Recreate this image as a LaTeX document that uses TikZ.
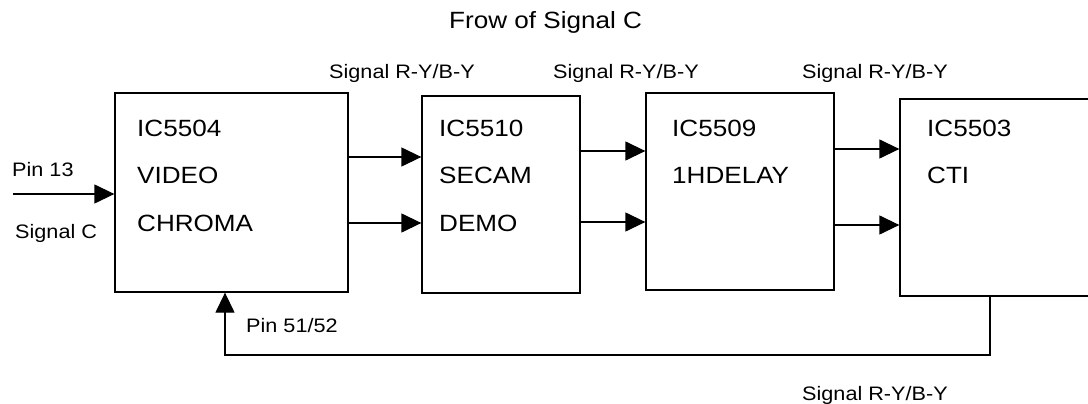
\documentclass[tikz,border=0pt]{standalone}
\usepackage{fontspec}
\setmainfont{Liberation Sans}[FakeStretch=1.11]
\usetikzlibrary{arrows.meta}
\tikzset{
  box/.style={draw, line width=1.3pt, rectangle, inner sep=0pt},
  big/.style={font=\fontsize{23.5}{28}\selectfont, inner sep=0pt, anchor=base west},
  lbl/.style={font=\fontsize{19.5}{23}\selectfont, inner sep=0pt, anchor=base west},
  wire/.style={line width=1.3pt},
  arr/.style={wire, -{Triangle[length=20pt,width=19pt]}}
}
\begin{document}
\begin{tikzpicture}[x=1pt,y=-1pt]
\clip (0,0) rectangle (1088,404);
\fill[white] (0,0) rectangle (1088,404);
% boxes
\node[box, minimum width=233pt, minimum height=199pt] (b1) at (231.5,192.5) {};
\node[box, minimum width=158pt, minimum height=197pt] (b2) at (501,194.5) {};
\node[box, minimum width=188pt, minimum height=197pt] (b3) at (740,191.5) {};
\node[box, minimum width=200pt, minimum height=197pt] (b4) at (1000,197.5) {};
% box texts
\node[big] (t1a) at (137,136) {IC5504};
\node[big] (t1b) at (137,183) {VIDEO};
\node[big] (t1c) at (137,231) {CHROMA};
\node[big] (t2a) at (439,136) {IC5510};
\node[big] (t2b) at (439,183) {SECAM};
\node[big] (t2c) at (439,231) {DEMO};
\node[big] (t3a) at (672,136) {IC5509};
\node[big] (t3b) at (672,183) {1HDELAY};
\node[big] (t4a) at (927,136) {IC5503};
\node[big] (t4b) at (927,183) {CTI};
% title and labels
\node[big] (title) at (449,29) {Frow of Signal C};
\node[lbl] (s1) at (329,79) {Signal R-Y/B-Y};
\node[lbl] (s2) at (553,79) {Signal R-Y/B-Y};
\node[lbl] (s3) at (802,79) {Signal R-Y/B-Y};
\node[lbl] (s4) at (802,400) {Signal R-Y/B-Y};
\node[lbl] (p13) at (12,176) {Pin 13};
\node[lbl] (sc) at (15,238) {Signal C};
\node[lbl] (p51) at (246,332) {Pin 51/52};
% input
\coordinate (in) at (13,194);
\draw[arr] (in) -- (b1.west |- in);
% connections
\draw[arr] (b1.east |- 0,157) -- (b2.west |- 0,157);
\draw[arr] (b1.east |- 0,223) -- (b2.west |- 0,223);
\draw[arr] (b2.east |- 0,151) -- (b3.west |- 0,151);
\draw[arr] (b2.east |- 0,222) -- (b3.west |- 0,222);
\draw[arr] (b3.east |- 0,149) -- (b4.west |- 0,149);
\draw[arr] (b3.east |- 0,225) -- (b4.west |- 0,225);
% feedback
\coordinate (fb1) at (990,355);
\coordinate (fb2) at (225,355);
\draw[arr] (b4.south -| fb1) -- (fb1) -- (fb2) -- (fb2 |- b1.south);
\end{tikzpicture}
\end{document}
